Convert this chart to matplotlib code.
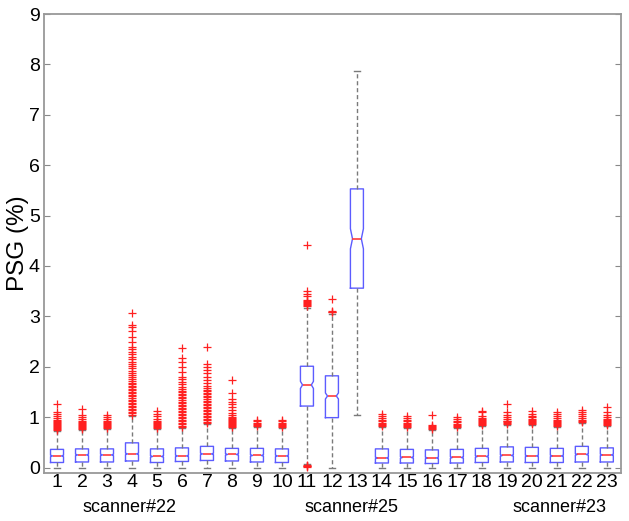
import matplotlib
matplotlib.use("Agg")
import matplotlib.pyplot as plt

plt.rcParams['font.family'] = ['Liberation Sans', 'DejaVu Sans']

# per-box summary (PSG in %)
labels = [str(i) for i in range(1, 24)]
q1 = [0.10, 0.11, 0.11, 0.13, 0.10, 0.12, 0.14, 0.13, 0.11, 0.10, 1.22, 0.99, 3.56,
      0.09, 0.09, 0.08, 0.09, 0.10, 0.11, 0.10, 0.10, 0.11, 0.11]
med = [0.23, 0.25, 0.25, 0.27, 0.22, 0.23, 0.27, 0.26, 0.24, 0.23, 1.64, 1.42, 4.54,
       0.19, 0.20, 0.19, 0.20, 0.22, 0.24, 0.23, 0.23, 0.26, 0.25]
q3 = [0.36, 0.37, 0.37, 0.49, 0.37, 0.39, 0.42, 0.38, 0.38, 0.37, 2.01, 1.82, 5.53,
      0.37, 0.36, 0.35, 0.36, 0.38, 0.41, 0.40, 0.38, 0.42, 0.39]
whis_lo = [0.0, 0.0, 0.0, 0.0, 0.0, 0.0, 0.0, 0.0, 0.0, 0.0, 0.07, 0.0, 1.05,
           0.0, 0.0, 0.0, 0.0, 0.0, 0.0, 0.0, 0.0, 0.0, 0.0]
whis_hi = [0.73, 0.74, 0.76, 1.02, 0.76, 0.78, 0.86, 0.78, 0.80, 0.78, 3.17, 3.05, 7.87,
           0.81, 0.78, 0.74, 0.78, 0.83, 0.84, 0.85, 0.80, 0.88, 0.83]
notch = [0.015] * 10 + [0.07, 0.06, 0.20] + [0.015] * 10

fliers = [
    [0.75, 0.77, 0.79, 0.81, 0.83, 0.85, 0.87, 0.89, 0.91, 0.93, 0.95, 0.99, 1.03, 1.07, 1.10, 1.27],
    [0.76, 0.78, 0.80, 0.82, 0.84, 0.86, 0.88, 0.90, 0.92, 0.97, 1.01, 1.05, 1.16],
    [0.78, 0.80, 0.82, 0.84, 0.86, 0.88, 0.90, 0.93, 0.97, 1.00, 1.05],
    [1.05, 1.08, 1.11, 1.14, 1.17, 1.20, 1.23, 1.26, 1.29, 1.32, 1.35, 1.38, 1.41, 1.44,
     1.47, 1.50, 1.53, 1.56, 1.59, 1.62, 1.65, 1.68, 1.71, 1.75, 1.79, 1.83, 1.87, 1.92,
     1.97, 2.01, 2.05, 2.10, 2.15, 2.20, 2.25, 2.30, 2.35, 2.40, 2.50, 2.60, 2.70, 2.78,
     2.83, 3.07],
    [0.78, 0.80, 0.82, 0.84, 0.86, 0.88, 0.90, 0.93, 0.97, 1.02, 1.07, 1.13],
    [0.80, 0.83, 0.86, 0.89, 0.92, 0.95, 0.98, 1.01, 1.04, 1.07, 1.10, 1.13, 1.16, 1.19,
     1.22, 1.25, 1.28, 1.31, 1.34, 1.37, 1.40, 1.43, 1.46, 1.49, 1.52, 1.55, 1.60, 1.65,
     1.70, 1.75, 1.80, 1.90, 2.00, 2.10, 2.17, 2.38],
    [0.88, 0.91, 0.94, 0.97, 1.00, 1.03, 1.06, 1.09, 1.12, 1.15, 1.18, 1.21, 1.24, 1.27,
     1.30, 1.33, 1.36, 1.39, 1.42, 1.45, 1.48, 1.51, 1.54, 1.57, 1.62, 1.68, 1.74, 1.80,
     1.87, 1.94, 2.00, 2.05, 2.40],
    [0.80, 0.82, 0.84, 0.86, 0.88, 0.90, 0.92, 0.94, 0.96, 0.98, 1.01, 1.04, 1.09, 1.14,
     1.20, 1.26, 1.31, 1.36, 1.47, 1.73],
    [0.82, 0.84, 0.86, 0.88, 0.92, 0.95],
    [0.80, 0.82, 0.84, 0.86, 0.88, 0.92, 0.94],
    [0.02, 0.03, 0.04, 0.05, 3.20, 3.22, 3.24, 3.26, 3.28, 3.30, 3.32, 3.40, 3.45, 3.50, 4.42],
    [3.08, 3.09, 3.10, 3.34],
    [],
    [0.83, 0.85, 0.87, 0.88, 0.92, 0.95, 0.98, 1.02, 1.06],
    [0.80, 0.82, 0.84, 0.86, 0.88, 0.92, 0.95, 0.98, 1.02],
    [0.76, 0.78, 0.80, 0.82, 0.84, 1.04],
    [0.80, 0.82, 0.84, 0.86, 0.90, 0.93, 0.97, 1.00],
    [0.85, 0.87, 0.89, 0.91, 0.93, 0.95, 0.97, 0.99, 1.03, 1.10, 1.13],
    [0.86, 0.88, 0.90, 0.92, 0.93, 0.97, 1.00, 1.04, 1.10, 1.27],
    [0.87, 0.89, 0.91, 0.93, 0.95, 0.97, 1.00, 1.03, 1.07, 1.12],
    [0.82, 0.84, 0.86, 0.88, 0.90, 0.92, 0.95, 0.98, 1.02, 1.06, 1.10],
    [0.90, 0.92, 0.95, 0.99, 1.03, 1.07, 1.10, 1.14],
    [0.85, 0.87, 0.89, 0.91, 0.93, 0.95, 0.97, 1.00, 1.05, 1.10, 1.20],
]

groups = ["scanner#22", "scanner#25", "scanner#23"]
group_x = [3.92, 12.8, 21.1]

stats = []
for i in range(len(labels)):
    stats.append(dict(label=labels[i], q1=q1[i], med=med[i], q3=q3[i],
                      whislo=whis_lo[i], whishi=whis_hi[i], fliers=fliers[i],
                      cilo=med[i] - notch[i], cihi=med[i] + notch[i]))

fig = plt.figure(figsize=(6.29, 5.21), dpi=100)
ax = fig.add_axes([0.070, 0.092, 0.917, 0.881])

w = 0.52
pos = list(range(1, len(labels) + 1))
bp = ax.bxp(stats, positions=pos, widths=w, shownotches=True, capwidths=0.22,
            boxprops=dict(color='#5c5cff', lw=1.0),
            medianprops=dict(color='#ff3b3b', lw=1.2),
            whiskerprops=dict(color='#7a7a7a', lw=1.0, linestyle=(0, (3, 2))),
            capprops=dict(color='#7a7a7a', lw=1.0),
            flierprops=dict(marker='+', markeredgecolor='#ff2020', markersize=6,
                            markeredgewidth=0.9, linestyle='none'))

# shallower notches, like the MATLAB ones
for p, box, m in zip(pos, bp['boxes'], bp['medians']):
    xs = list(box.get_xdata())
    xs[3] = p + w * 0.34
    xs[8] = p - w * 0.34
    box.set_xdata(xs)
    m.set_xdata([p - w * 0.34, p + w * 0.34])

ax.set_xlim(0.48, 23.56)
ax.set_ylim(-0.11, 9)
ax.set_yticks(range(0, 10))
ax.set_ylabel("PSG (%)", fontsize=17.5, labelpad=0)
ax.tick_params(axis='y', direction='in', length=4, right=True, labelsize=14,
               color='#888888', pad=3)
ax.tick_params(axis='x', length=0, labelsize=14, pad=1)
for s in ax.spines.values():
    s.set_color('#999999')
    s.set_linewidth(1.3)

for name, gx in zip(groups, group_x):
    ax.text(gx, -0.074, name, transform=ax.get_xaxis_transform(),
            ha='center', va='center', fontsize=13)

plt.savefig("out.png", dpi=100)
plt.close()
